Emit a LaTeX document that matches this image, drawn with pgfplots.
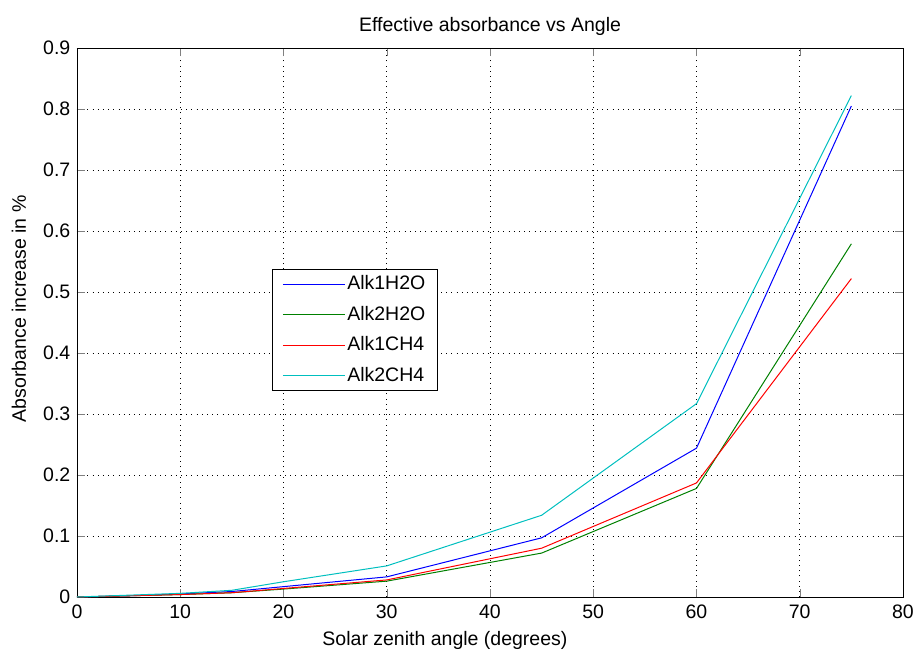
\documentclass[border=0pt]{standalone}
\usepackage{fontspec}
\setmainfont{Liberation Sans}
\usepackage{pgfplots}
\pgfplotsset{compat=1.18}
\pgfplotsset{legend image code/.code={\draw[#1] plot coordinates {(0pt,0pt) (31pt,0pt) (62pt,0pt)};}}
\definecolor{mgreen}{rgb}{0,0.5,0}
\definecolor{mcyan}{rgb}{0,0.75,0.75}
\begin{document}
\fontsize{19.5}{22}\selectfont
\begin{tikzpicture}
\path[use as bounding box] (-77pt,-56pt) rectangle (840pt,597pt);
\begin{axis}[
  at={(0,0)}, anchor=south west,
  scale only axis, width=826pt, height=549pt,
  xmin=0, xmax=80, ymin=0, ymax=0.9,
  xtick={0,10,...,80}, ytick={0,0.1,...,0.9},
  yticklabels={0,0.1,0.2,0.3,0.4,0.5,0.6,0.7,0.8,0.9},
  tick align=inside, tick pos=both,
  major tick length=8pt,
  grid=major,
  grid style={black, line width=0.9pt, dash pattern=on 0.9pt off 4.3pt},
  axis line style={black, line width=0.7pt},
  /pgf/number format/assume math mode=true,
  ticklabel style={font=\fontsize{19.5}{22}\selectfont},
  xticklabel style={yshift=-1pt},
  title={Effective absorbance vs Angle},
  title style={font=\fontsize{19.5}{22}\selectfont, yshift=0pt},
  xlabel={Solar zenith angle (degrees)},
  ylabel={Absorbance increase in \%},
  label style={font=\fontsize{19.5}{22}\selectfont},
  xlabel style={at={(ticklabel cs:0.4455)}, yshift=0pt},
  ylabel style={at={(ticklabel cs:0.525)}, yshift=4pt},
  legend style={at={(0.236,0.597)}, anchor=north west, draw=black, line width=0.7pt,
    font=\fontsize{19.5}{22}\selectfont, row sep=9.5pt, inner xsep=10pt, inner ysep=4pt},
  legend cell align=left,
  every axis plot/.append style={line width=1pt},
]
\addplot[blue] coordinates {(0,0) (5,0.002) (10,0.005) (15,0.009) (20,0.017) (30,0.033) (45,0.097) (60,0.244) (75,0.805)};
\addlegendentry{Alk1H2O}
\addplot[mgreen] coordinates {(0,0) (5,0.002) (10,0.004) (15,0.007) (20,0.013) (30,0.026) (45,0.072) (60,0.178) (75,0.579)};
\addlegendentry{Alk2H2O}
\addplot[red] coordinates {(0,0) (5,0.002) (10,0.004) (15,0.007) (20,0.014) (30,0.028) (45,0.080) (60,0.187) (75,0.522)};
\addlegendentry{Alk1CH4}
\addplot[mcyan] coordinates {(0,0) (5,0.003) (10,0.006) (15,0.011) (20,0.025) (30,0.051) (45,0.134) (60,0.317) (75,0.822)};
\addlegendentry{Alk2CH4}
\end{axis}
\end{tikzpicture}
\end{document}
